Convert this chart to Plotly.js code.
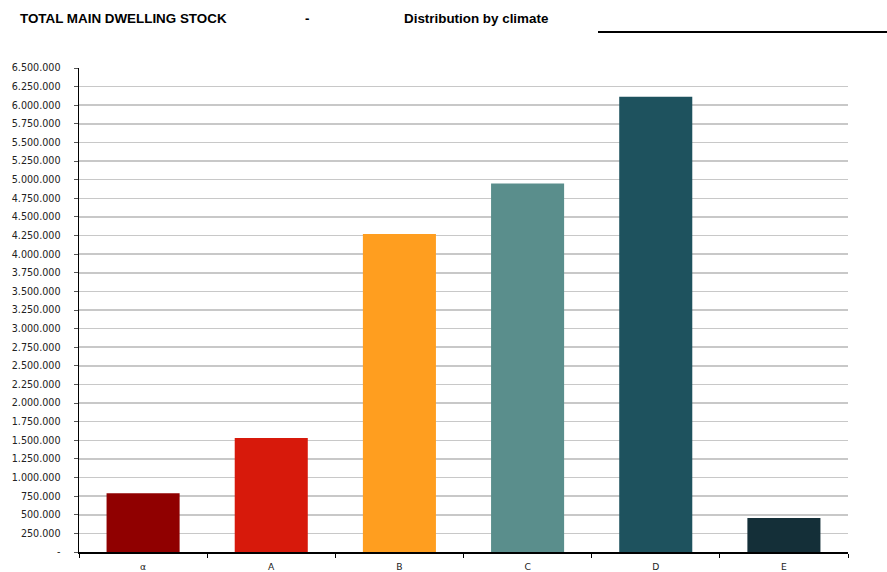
<!DOCTYPE html>
<html>
<head>
<meta charset="utf-8">
<script src="https://cdn.plot.ly/plotly-3.0.1.min.js"></script>
<style>html,body{margin:0;padding:0;background:#fff;}#chart{width:887px;height:572px;}</style>
</head>
<body>
<div id="chart"></div>
<script>
const categories = ["α", "A", "B", "C", "D", "E"];
const dwellings = [790000, 1530000, 4270000, 4950000, 6115000, 455000];
const barColors = ["#900000", "#D7190B", "#FF9E1F", "#5A8E8C", "#1E525E", "#142F38"];
const yTickVals = [0, 250000, 500000, 750000, 1000000, 1250000, 1500000, 1750000, 2000000, 2250000, 2500000, 2750000, 3000000, 3250000, 3500000, 3750000, 4000000, 4250000, 4500000, 4750000, 5000000, 5250000, 5500000, 5750000, 6000000, 6250000, 6500000];
const yTickText = ["-", "250.000", "500.000", "750.000", "1.000.000", "1.250.000", "1.500.000", "1.750.000", "2.000.000", "2.250.000", "2.500.000", "2.750.000", "3.000.000", "3.250.000", "3.500.000", "3.750.000", "4.000.000", "4.250.000", "4.500.000", "4.750.000", "5.000.000", "5.250.000", "5.500.000", "5.750.000", "6.000.000", "6.250.000", "6.500.000"];

const W = 887, H = 572;
const m = {l: 79, r: 39, t: 68, b: 20};
const pw = W - m.l - m.r, ph = H - m.t - m.b;
const px = x => (x - m.l) / pw;
const py = y => (H - m.b - y) / ph;

const trace = {
  type: "bar",
  x: categories,
  y: dwellings,
  marker: {color: barColors, line: {width: 0}},
  hoverinfo: "x+y"
};

const titleFont = {family: "Liberation Sans, Arial, sans-serif", size: 13.4, color: "#000"};
const xTickFont = {family: "DejaVu Sans, Verdana, sans-serif", size: 9.2, color: "#222"};
const yTickFont = {family: "DejaVu Sans, Verdana, sans-serif", size: 9.6, color: "#222"};

const layout = {
  width: W, height: H,
  margin: m,
  paper_bgcolor: "#fff",
  plot_bgcolor: "#fff",
  showlegend: false,
  bargap: 0.43,
  xaxis: {
    type: "category",
    tickson: "boundaries",
    ticks: "outside",
    ticklen: 4,
    tickcolor: "#000",
    tickwidth: 1,
    showline: true,
    linecolor: "#000",
    linewidth: 1.5,
    showgrid: false,
    tickfont: xTickFont,
    ticklabelstandoff: 5,
    range: [-0.5, 5.5]
  },
  yaxis: {
    range: [0, 6500000],
    tickvals: yTickVals,
    ticktext: yTickText,
    ticks: "outside",
    ticklen: 4,
    tickcolor: "#555",
    showline: true,
    linecolor: "#000",
    linewidth: 1.5,
    showgrid: true,
    gridcolor: "#c8c8c8",
    gridwidth: 1.5,
    zeroline: false,
    tickfont: yTickFont,
    ticklabelstandoff: 11
  },
  annotations: [
    {xref: "paper", yref: "paper", x: px(18), y: py(18), xanchor: "left", yanchor: "middle", text: "<b>TOTAL MAIN DWELLING STOCK</b>", showarrow: false, font: titleFont},
    {xref: "paper", yref: "paper", x: px(303), y: py(18), xanchor: "left", yanchor: "middle", text: "<b>-</b>", showarrow: false, font: titleFont},
    {xref: "paper", yref: "paper", x: px(402), y: py(18), xanchor: "left", yanchor: "middle", text: "<b>Distribution by climate</b>", showarrow: false, font: titleFont}
  ],
  shapes: [
    {type: "line", xref: "paper", yref: "paper", x0: px(598), x1: px(887), y0: py(32), y1: py(32), line: {color: "#000", width: 2}}
  ]
};

Plotly.newPlot("chart", [trace], layout, {displayModeBar: false, staticPlot: true});
</script>
</body>
</html>
